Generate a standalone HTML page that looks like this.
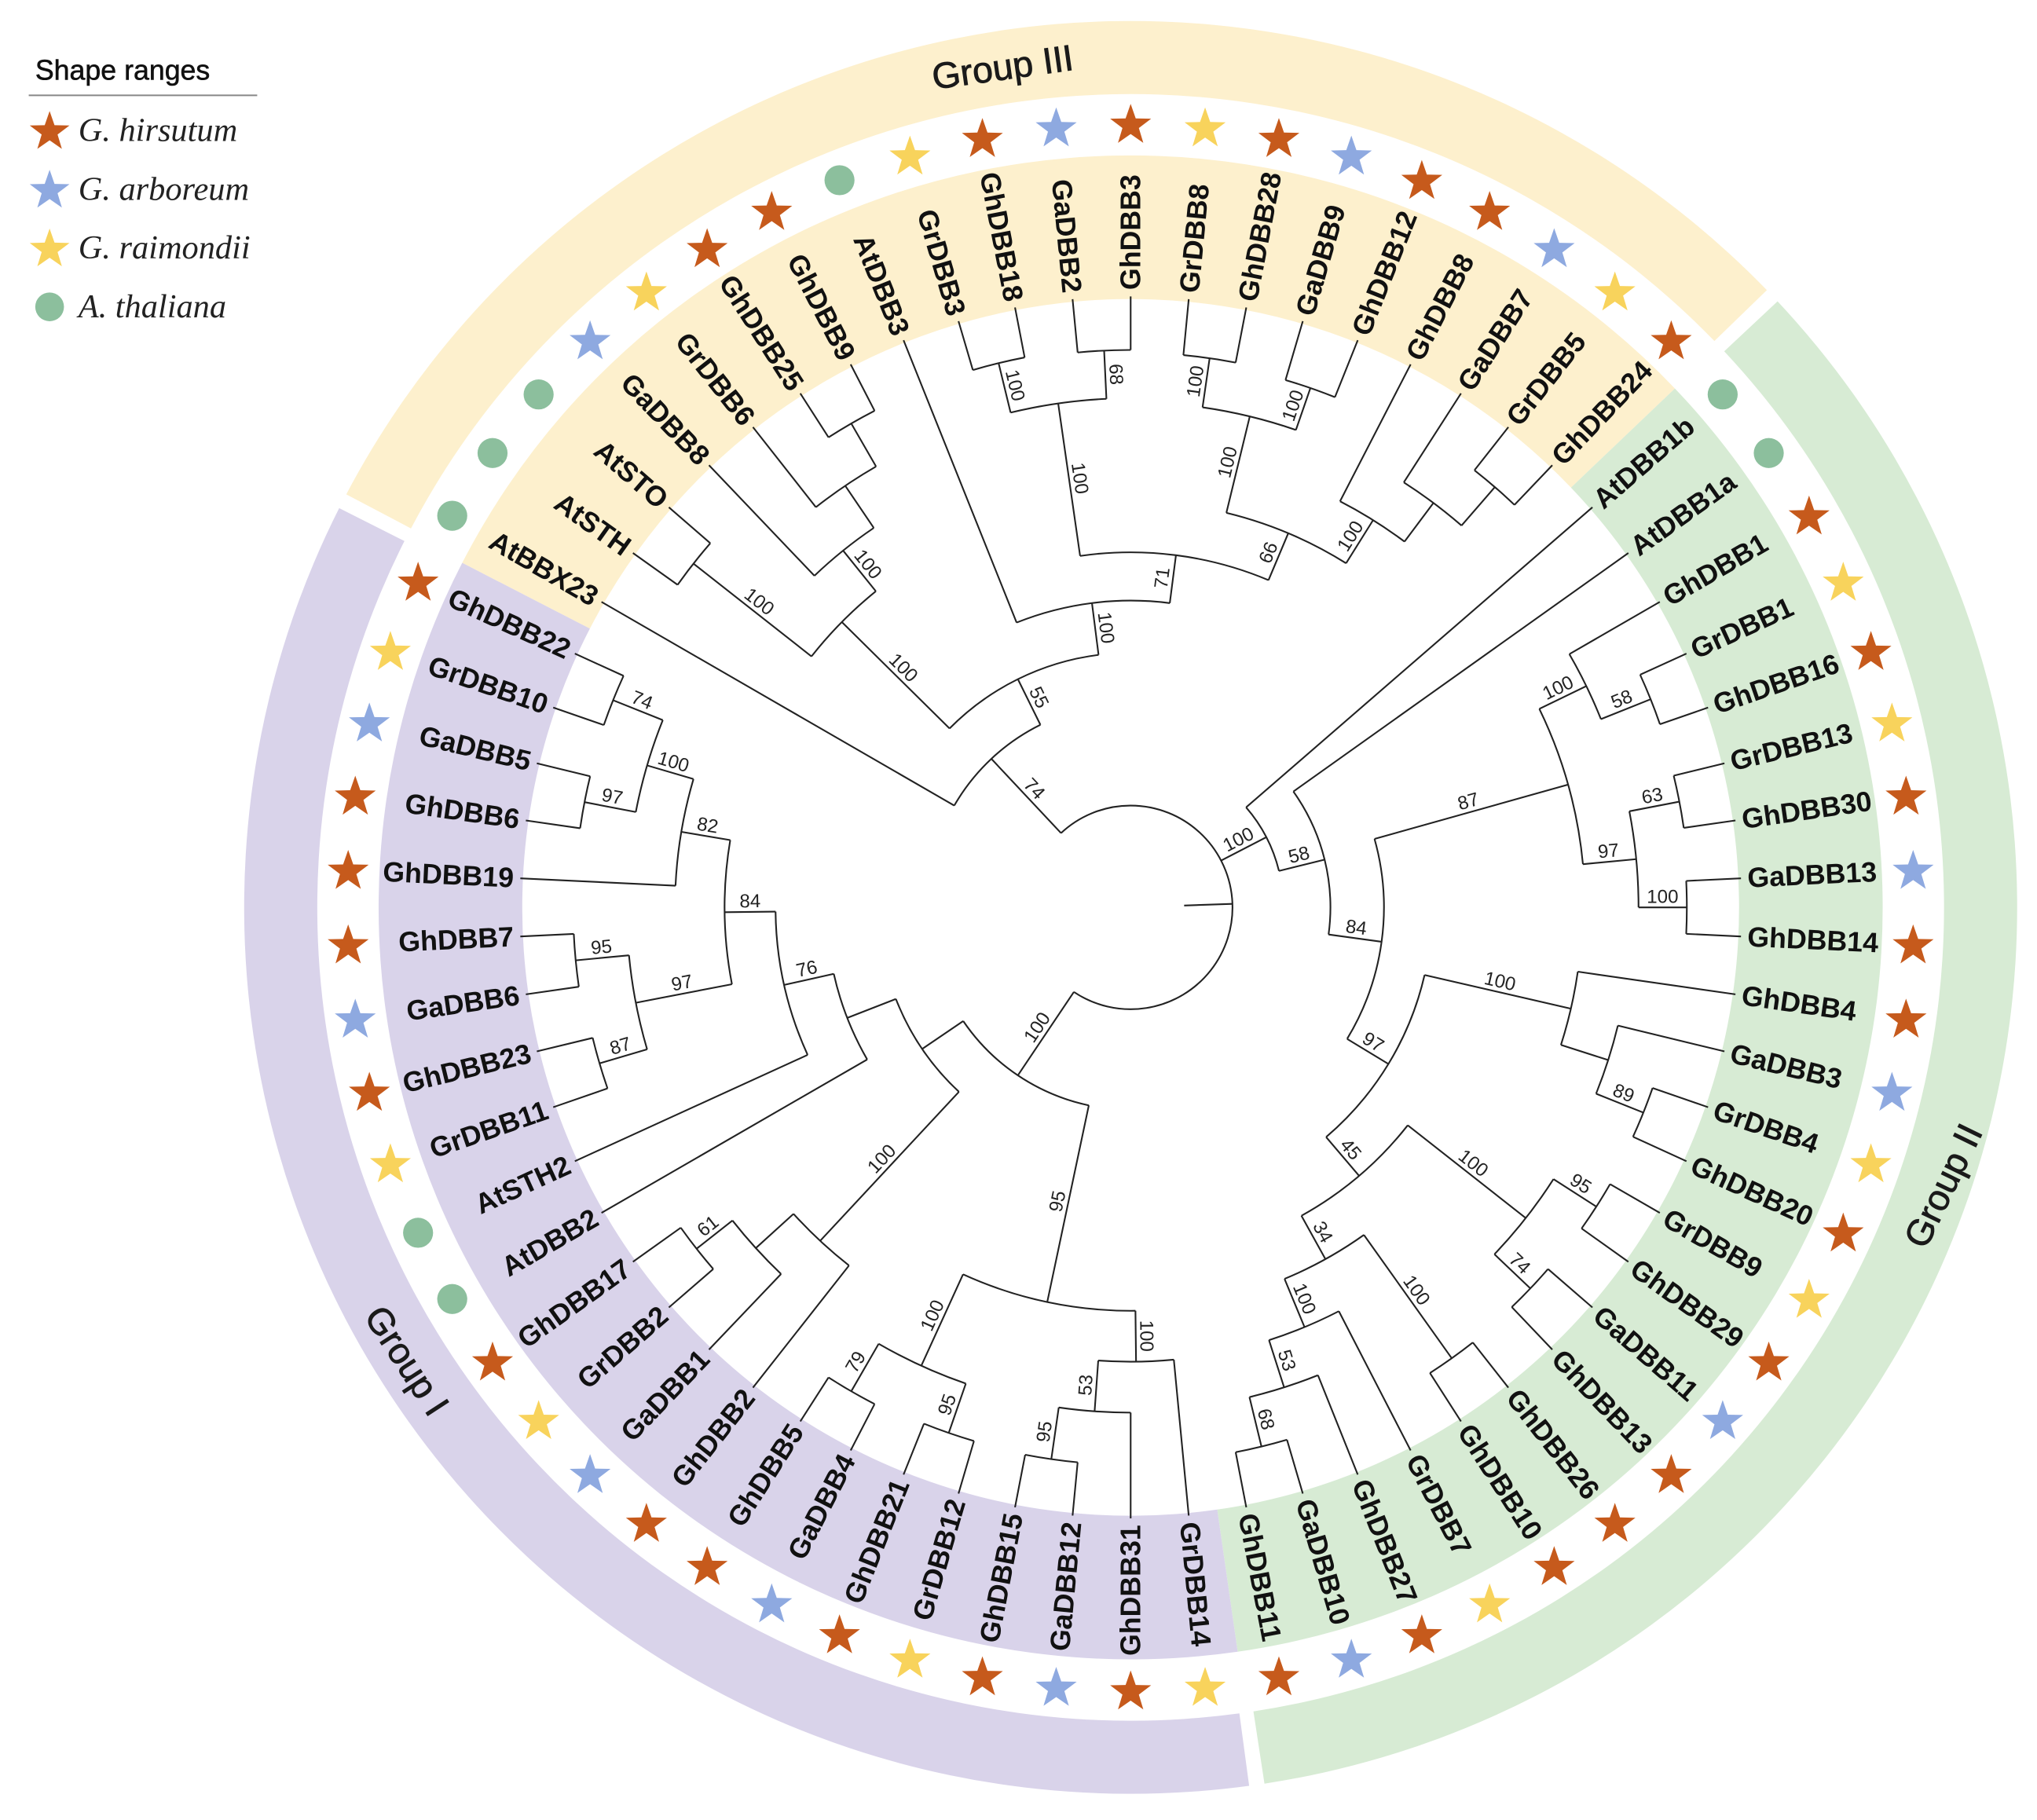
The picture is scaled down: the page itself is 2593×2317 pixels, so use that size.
<!DOCTYPE html>
<html>
<head>
<meta charset="utf-8">
<title>DBB phylogenetic tree</title>
<style>
  html,body{margin:0;padding:0;background:#ffffff;}
  svg{display:block;}
  .leaf{font-family:"Liberation Sans",Arial,sans-serif;font-weight:bold;font-size:21.5px;fill:#111;}
  .boot{font-family:"Liberation Sans",Arial,sans-serif;font-size:14.5px;fill:#222;}
  .grp{font-family:"Liberation Sans",Arial,sans-serif;font-size:28px;fill:#1a1a1a;stroke:#1a1a1a;stroke-width:0.5px;}
  .legt{font-family:"Liberation Serif","Times New Roman",serif;font-style:italic;font-size:25.5px;fill:#222;}
  .legh{font-family:"Liberation Sans",Arial,sans-serif;font-size:21.5px;fill:#111;stroke:#111;stroke-width:0.35px;}
</style>
</head>
<body>
<svg id="chart" xmlns="http://www.w3.org/2000/svg" width="2593" height="2317" viewBox="0 0 1560.2 1394">
  <rect x="0" y="0" width="1560.2" height="1394" fill="#ffffff"/>
  <g id="bands"></g>
  <g id="markers"></g>
  <g id="branches"></g>
  <g id="boots"></g>
  <g id="leaves"></g>

  <text class="grp" x="768" y="61" text-anchor="middle" transform="rotate(-8 768 52)">Group III</text>
  <text class="grp" x="1488" y="918" text-anchor="middle" transform="rotate(-64 1488 908)">Group II</text>
  <text class="grp" x="312" y="1052" text-anchor="middle" transform="rotate(57 312 1042)">Group I</text>

  <g>
    <text class="legh" x="27" y="61">Shape ranges</text>
    <line x1="22" y1="73" x2="197" y2="73" stroke="#888" stroke-width="1.2"/>
    <g id="legendItems"></g>
  </g>
</svg>
<script>
// ---------------- data ----------------
const leafNames = ["AtBBX23","AtSTH","AtSTO","GaDBB8","GrDBB6","GhDBB25","GhDBB9","AtDBB3","GrDBB3","GhDBB18","GaDBB2","GhDBB3","GrDBB8","GhDBB28","GaDBB9","GhDBB12","GhDBB8","GaDBB7","GrDBB5","GhDBB24",
  "AtDBB1b","AtDBB1a","GhDBB1","GrDBB1","GhDBB16","GrDBB13","GhDBB30","GaDBB13","GhDBB14","GhDBB4","GaDBB3","GrDBB4","GhDBB20","GrDBB9","GhDBB29","GaDBB11","GhDBB13","GhDBB26","GhDBB10","GrDBB7","GhDBB27","GaDBB10","GhDBB11",
  "GrDBB14","GhDBB31","GaDBB12","GhDBB15","GrDBB12","GhDBB21","GaDBB4","GhDBB5","GhDBB2","GaDBB1","GrDBB2","GhDBB17","AtDBB2","AtSTH2","GrDBB11","GhDBB23","GaDBB6","GhDBB7","GhDBB19","GhDBB6","GaDBB5","GrDBB10","GhDBB22"];
const groupNames = ["Group III","Group II","Group I"];
const groupFirstLeaf = [0,20,43];
const groupLastLeaf = [19,42,65];
const groupColors = ["#fdf0cd","#d7ebd4","#d9d3ea"];

const nodeNames = ["root","A","N55","Q","S","T","U","V","R","W","X","Y1","Y2","Z","Z1","P1","P2","Z2","Z3","Z4",
  "B","B58","B84","B87","B100a","B58b","B97a","B63","B100c","B97","BG4","B89","B89x","B45","BC100","B95","B74","B34","BD100","BE100","B53","B68",
  "C","C95","C100e","C53","C95b","C100d","C95c","C79","G","F","F2","F3","H","N76","N84L","N97L","N87L","N95L","N82","N100L","N97b","N74"];
const nodeChildren = ["A,B,C","AtBBX23,N55","Q,R","S,T","AtSTH,AtSTO","GaDBB8,U","GrDBB6,V","GhDBB25,GhDBB9","AtDBB3,W","X,Z","Y1,Y2","GrDBB3,GhDBB18","GaDBB2,GhDBB3","Z1,Z2","P1,P2","GrDBB8,GhDBB28","GaDBB9,GhDBB12","GhDBB8,Z3","GaDBB7,Z4","GrDBB5,GhDBB24",
  "AtDBB1b,B58","AtDBB1a,B84","B87,B97","B100a,B97a","GhDBB1,B58b","GrDBB1,GhDBB16","B63,B100c","GrDBB13,GhDBB30","GaDBB13,GhDBB14","BG4,B45","GhDBB4,B89","GaDBB3,B89x","GrDBB4,GhDBB20","BC100,B34","B95,B74","GrDBB9,GhDBB29","GaDBB11,GhDBB13","BD100,BE100","GhDBB26,GhDBB10","GrDBB7,B53","GhDBB27,B68","GaDBB10,GhDBB11",
  "C95,G","C100e,C100d","GrDBB14,C53","GhDBB31,C95b","GaDBB12,GhDBB15","C95c,C79","GrDBB12,GhDBB21","GaDBB4,GhDBB5","F,H","GhDBB2,F2","GaDBB1,F3","GrDBB2,GhDBB17","AtDBB2,N76","AtSTH2,N84L","N97L,N82","N87L,N95L","GrDBB11,GhDBB23","GaDBB6,GhDBB7","GhDBB19,N100L","N97b,N74","GhDBB6,GaDBB5","GrDBB10,GhDBB22"];
const nodeDepth = [78,156,195,311,426,351,390,428,235,272,390,429,427,311,387,425,421,350,387,426,
  117,153,194,348,388,429,389,428,426,231,346,384,423,270,385,424,423,308,424,348,386,425,
  155,309,348,387,427,386,426,428,193,349,388,423,233,272,311,386,424,427,349,386,426,427];
const nodeSupport = ["","74","55","100","100","100","","","100","71","100","100","68","66","100","100","100","100","","",
  "100","58","84","87","100","58","97","63","100","97","100","","89","45","100","95","74","34","100","100","53","68",
  "100","95","100","53","95","100","95","79","","100","","61","","76","84","97","87","95","82","100","97","74"];
const leafDepth = 468;

const speciesKeys = ["Gh","Ga","Gr","At"];
const speciesLabels = ["G. hirsutum","G. arboreum","G. raimondii","A. thaliana"];
const speciesColors = ["#c65a1c","#8ea9e0","#f8d35c","#8cbf9d"];

// ---------------- geometry ----------------
const NS = "http://www.w3.org/2000/svg";
const cx = 866, cy = 695;
const STEP = 360 / leafNames.length;
const R_LEAF_BAND_IN = 466, R_LEAF_BAND_OUT = 576;
const R_MARK = 600, R_RING_IN = 623, R_RING_OUT = 679;
const R_LABEL = 473;
function depthToRadius(d){ return d * (468 / leafDepth); }
function leafAngle(i){ return (i - 11) * STEP; }
function polar(r, t){ const a = t * Math.PI / 180; return [cx + r * Math.sin(a), cy - r * Math.cos(a)]; }
function mk(tag, parent){ const e = document.createElementNS(NS, tag); parent.appendChild(e); return e; }
function arcPath(r, t1, t2){
  const p1 = polar(r, t1), p2 = polar(r, t2);
  const large = (t2 - t1) > 180 ? 1 : 0;
  return "M" + p1[0].toFixed(2) + " " + p1[1].toFixed(2) + " A" + r + " " + r + " 0 " + large + " 1 " + p2[0].toFixed(2) + " " + p2[1].toFixed(2);
}
function sectorPath(r1, r2, t1, t2){
  const a = polar(r2, t1), b = polar(r2, t2), c = polar(r1, t2), d = polar(r1, t1);
  const large = (t2 - t1) > 180 ? 1 : 0;
  return "M" + a[0] + " " + a[1] + " A" + r2 + " " + r2 + " 0 " + large + " 1 " + b[0] + " " + b[1] +
         " L" + c[0] + " " + c[1] + " A" + r1 + " " + r1 + " 0 " + large + " 0 " + d[0] + " " + d[1] + " Z";
}
function norm(t){ return ((t % 360) + 360) % 360; }
function slug(s){ return s.toLowerCase().replace(/[^a-z0-9]+/g, "-"); }

// ---------------- bands ----------------
const gBands = document.getElementById("bands");
for (let g = 0; g < groupNames.length; g++){
  const t1 = leafAngle(groupFirstLeaf[g]) - STEP / 2, t2 = leafAngle(groupLastLeaf[g]) + STEP / 2;
  const inner = mk("path", gBands);
  inner.setAttribute("d", sectorPath(R_LEAF_BAND_IN, R_LEAF_BAND_OUT, t1, t2));
  inner.setAttribute("fill", groupColors[g]);
  
  
  const outer = mk("path", gBands);
  outer.setAttribute("d", sectorPath(R_RING_IN, R_RING_OUT, t1 + 0.5, t2 - 0.5));
  outer.setAttribute("fill", groupColors[g]);
  
  
}

// ---------------- markers ----------------
function starPoints(x, y, ro, ri){
  const pts = [];
  for (let k = 0; k < 10; k++){
    const r = k % 2 === 0 ? ro : ri;
    const a = (k * 36 - 90) * Math.PI / 180;
    pts.push((x + r * Math.cos(a)).toFixed(2) + "," + (y + r * Math.sin(a)).toFixed(2));
  }
  return pts.join(" ");
}
function speciesIndex(name){ return speciesKeys.indexOf(name.slice(0, 2)); }
const gMarks = document.getElementById("markers");
leafNames.forEach(function(name, i){
  const s = speciesIndex(name);
  const p = polar(R_MARK, leafAngle(i));
  let m;
  if (speciesKeys[s] === "At"){
    m = mk("circle", gMarks);
    m.setAttribute("cx", p[0]); m.setAttribute("cy", p[1]); m.setAttribute("r", 11.5);
  } else {
    m = mk("polygon", gMarks);
    m.setAttribute("points", starPoints(p[0], p[1] + 1, 16.5, 6.6));
  }
  m.setAttribute("fill", speciesColors[s]);
  
  
});

// ---------------- tree ----------------
const nodeIndex = {};
nodeNames.forEach(function(n, i){ nodeIndex[n] = i; });
const leafIndex = {};
leafNames.forEach(function(n, i){ leafIndex[n] = i; });
const angleCache = {};
function angleOf(name){
  if (name in leafIndex) return leafAngle(leafIndex[name]);
  if (name in angleCache) return angleCache[name].mid;
  const kids = nodeChildren[nodeIndex[name]].split(",");
  const angs = kids.map(angleOf);
  const lo = Math.min.apply(null, angs), hi = Math.max.apply(null, angs);
  angleCache[name] = {lo: lo, hi: hi, mid: (lo + hi) / 2};
  return angleCache[name].mid;
}
function radiusOf(name){
  if (name in leafIndex) return depthToRadius(leafDepth);
  return depthToRadius(nodeDepth[nodeIndex[name]]);
}
angleOf("root");

const gBr = document.getElementById("branches");
const gBoot = document.getElementById("boots");
const STROKE = "#222", SW = 1.25;

nodeNames.forEach(function(name, i){
  const info = angleCache[name];
  const r = radiusOf(name);
  const arc = mk("path", gBr);
  arc.setAttribute("d", arcPath(r, info.lo, info.hi));
  arc.setAttribute("fill", "none");
  arc.setAttribute("stroke", STROKE);
  arc.setAttribute("stroke-width", SW);
  
  
  nodeChildren[i].split(",").forEach(function(kid){
    const t = angleOf(kid);
    const rc = radiusOf(kid);
    const p1 = polar(r, t), p2 = polar(rc, t);
    const ln = mk("line", gBr);
    ln.setAttribute("x1", p1[0]); ln.setAttribute("y1", p1[1]);
    ln.setAttribute("x2", p2[0]); ln.setAttribute("y2", p2[1]);
    ln.setAttribute("stroke", STROKE);
    ln.setAttribute("stroke-width", SW);
    
    
    if (!(kid in leafIndex)){
      const sup = nodeSupport[nodeIndex[kid]];
      if (sup !== ""){
        const rm = (r + rc) / 2;
        const tn = norm(t);
        const off = (8 / rm) * 180 / Math.PI;
        const tp = tn < 180 ? t - off : t + off;
        const pp = polar(rm, tp);
        const rot = tn < 180 ? tn - 90 : tn + 90;
        const tx = mk("text", gBoot);
        tx.setAttribute("class", "boot");
        tx.setAttribute("x", pp[0]); tx.setAttribute("y", pp[1]);
        tx.setAttribute("text-anchor", "middle");
        tx.setAttribute("dominant-baseline", "central");
        tx.setAttribute("transform", "rotate(" + rot.toFixed(2) + " " + pp[0].toFixed(2) + " " + pp[1].toFixed(2) + ")");
        tx.textContent = sup;
        
        
      }
    }
  });
});

// root stub
const stub = mk("line", gBr);
const s1 = polar(41, 88), s2 = polar(depthToRadius(nodeDepth[0]), 88);
stub.setAttribute("x1", s1[0]); stub.setAttribute("y1", s1[1]);
stub.setAttribute("x2", s2[0]); stub.setAttribute("y2", s2[1]);
stub.setAttribute("stroke", STROKE); stub.setAttribute("stroke-width", SW);



// ---------------- leaf labels ----------------
const gLeaves = document.getElementById("leaves");
leafNames.forEach(function(name, i){
  const t = norm(leafAngle(i));
  const p = polar(R_LABEL, leafAngle(i));
  const right = t < 180;
  const rot = right ? t - 90 : t + 90;
  const tx = mk("text", gLeaves);
  tx.setAttribute("class", "leaf");
  tx.setAttribute("x", p[0]); tx.setAttribute("y", p[1]);
  tx.setAttribute("text-anchor", right ? "start" : "end");
  tx.setAttribute("dominant-baseline", "central");
  tx.setAttribute("transform", "rotate(" + rot.toFixed(2) + " " + p[0].toFixed(2) + " " + p[1].toFixed(2) + ")");
  tx.textContent = name;
  
  
});

// ---------------- legend ----------------
const gLeg = document.getElementById("legendItems");
speciesLabels.forEach(function(lbl, k){
  const y = 100 + k * 45;
  let m;
  if (speciesKeys[k] === "At"){
    m = mk("circle", gLeg);
    m.setAttribute("cx", 38); m.setAttribute("cy", y); m.setAttribute("r", 11);
  } else {
    m = mk("polygon", gLeg);
    m.setAttribute("points", starPoints(38, y + 1, 16, 6.4));
  }
  m.setAttribute("fill", speciesColors[k]);
  
  
  const tx = mk("text", gLeg);
  tx.setAttribute("class", "legt");
  tx.setAttribute("x", 60); tx.setAttribute("y", y + 8);
  tx.textContent = lbl;
  
  
});
</script>
</body>
</html>
